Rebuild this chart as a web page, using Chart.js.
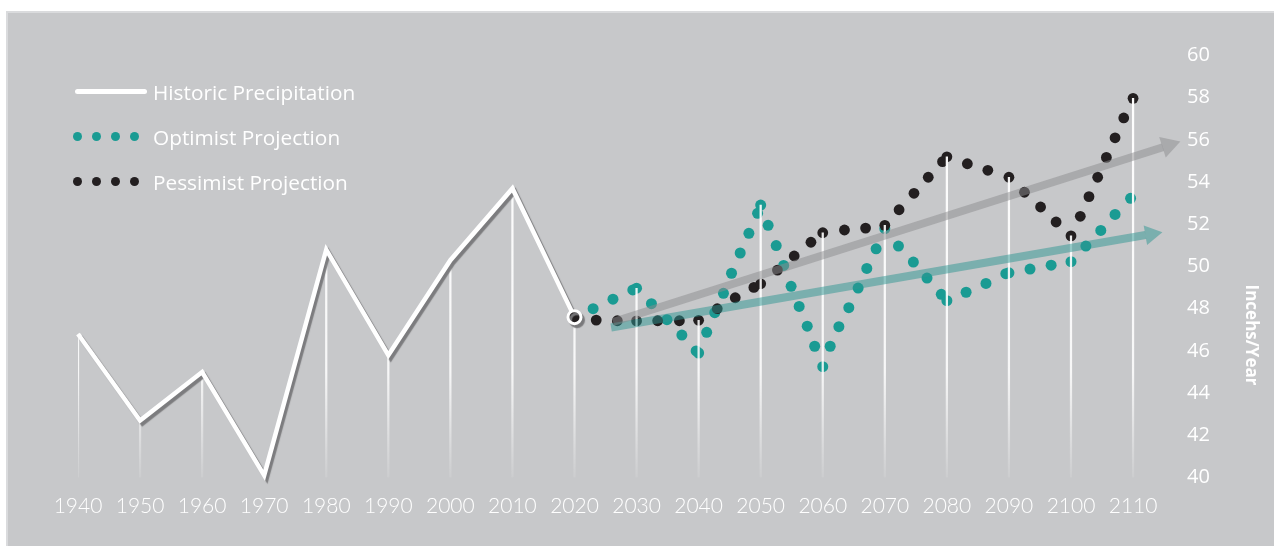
<!DOCTYPE html>
<html>
<head>
<meta charset="utf-8">
<script src="https://cdn.jsdelivr.net/npm/chart.js@4.4.1/dist/chart.umd.min.js"></script>
<style>
  html, body { margin: 0; padding: 0; background: #fff; }
  #wrap { position: relative; width: 1274px; height: 546px; overflow: hidden; }
  #panel {
    position: absolute; left: 6px; top: 11px; right: 0; bottom: 0;
    background: #c7c8ca;
    border-left: 2px solid #dadbdd; border-top: 2px solid #dadbdd;
  }
  #chart { position: absolute; left: 0; top: 0; }
  #labels {
    position: absolute; left: 73px; top: 69px;
    font-family: "Open Sans", sans-serif; font-size: 20.8px; color: #fff;
  }
</style>
</head>
<body>
<div id="wrap">
  <div id="panel"></div>
  <canvas id="chart" width="1274" height="546"></canvas>
  <div id="labels"></div>
</div>
<script>
const historicYears = [1940, 1950, 1960, 1970, 1980, 1990, 2000, 2010, 2020];
const historicValues = [46.8, 42.7, 45.0, 40.1, 50.8, 45.8, 50.3, 53.7, 47.6];

const optimistYears = [
  2023.0, 2026.2, 2029.4, 2030.0, 2032.4, 2034.9, 2037.3, 2039.6, 2040.0, 2041.3,
  2042.6, 2044.0, 2045.3, 2046.7, 2048.1, 2049.5, 2050.0, 2051.2, 2052.5, 2053.7,
  2054.9, 2056.2, 2057.5, 2058.7, 2060.0, 2061.2, 2062.6, 2064.2, 2065.7, 2067.1,
  2068.6, 2070.0, 2072.2, 2074.6, 2076.8, 2079.1, 2080.0, 2083.1, 2086.3, 2089.5,
  2090.0, 2093.4, 2096.8, 2100.0, 2102.4, 2104.8, 2107.1, 2109.6,
];
const optimistValues = [
  48.0, 48.45, 48.89, 48.97, 48.24, 47.48, 46.75, 46.0, 45.9, 46.88,
  47.81, 48.73, 49.68, 50.64, 51.57, 52.52, 52.91, 51.95, 50.99, 50.05,
  49.06, 48.11, 47.17, 46.22, 45.25, 46.22, 47.15, 48.05, 48.98, 49.91,
  50.84, 51.79, 50.97, 50.21, 49.45, 48.68, 48.38, 48.78, 49.2, 49.66,
  49.7, 49.88, 50.06, 50.23, 50.97, 51.71, 52.47, 53.23,
];

const pessimistYears = [
  2023.5, 2026.9, 2030.0, 2033.4, 2036.9, 2040.0, 2043.0, 2045.9, 2048.9, 2050.0,
  2052.7, 2055.4, 2058.1, 2060.0, 2063.5, 2066.9, 2070.0, 2072.3, 2074.7, 2077.0,
  2079.3, 2080.0, 2083.3, 2086.6, 2090.0, 2092.5, 2095.1, 2097.6, 2100.0, 2101.5,
  2102.9, 2104.3, 2105.7, 2107.1, 2108.5, 2110.0,
];
const pessimistValues = [
  47.46, 47.43, 47.42, 47.43, 47.43, 47.45, 48.0, 48.52, 49.01, 49.18,
  49.83, 50.5, 51.15, 51.6, 51.73, 51.82, 51.95, 52.69, 53.47, 54.23,
  54.97, 55.2, 54.87, 54.56, 54.23, 53.52, 52.82, 52.11, 51.45, 52.38,
  53.31, 54.23, 55.17, 56.1, 57.04, 57.97,
];

// trend arrows: shaft start, shaft end, then the arrow head centre
const pessimistTrendYears = [2026.2, 2114.8];
const pessimistTrendValues = [47.37, 55.65];
const pessimistHead = { x: 2115.7, y: 55.74 };
const optimistTrendYears = [2025.9, 2112.0];
const optimistTrendValues = [47.11, 51.49];
const optimistHead = { x: 2112.9, y: 51.53 };

const yTicks = [40, 60, 2];
const yTitle = 'Incehs/Year';

const toPoints = (xs, ys) => xs.map((x, i) => ({ x, y: ys[i] }));

const historic = toPoints(historicYears, historicValues);
const optimist = toPoints(optimistYears, optimistValues);
const pessimist = toPoints(pessimistYears, pessimistValues);

// white drop lines: from the highest mark at each decade down to the axis
const dropLines = [];
for (let yr = historicYears[0]; yr <= 2110; yr += 10) {
  const tops = historic.concat(optimist, pessimist)
    .filter(p => Math.abs(p.x - yr) < 0.3)
    .map(p => p.y);
  if (tops.length) dropLines.push({ x: yr, y: Math.max(...tops) });
}

const getOrCreateLegendList = id => {
  const legendContainer = document.getElementById(id);
  let listContainer = legendContainer.querySelector('ul');
  if (!listContainer) {
    listContainer = document.createElement('ul');
    listContainer.style.listStyle = 'none';
    listContainer.style.margin = 0;
    listContainer.style.padding = 0;
    legendContainer.appendChild(listContainer);
  }
  return listContainer;
};

const htmlLegendPlugin = {
  id: 'htmlLegend',
  afterUpdate(chart, args, options) {
    const ul = getOrCreateLegendList(options.containerId);
    while (ul.firstChild) {
      ul.firstChild.remove();
    }
    const items = chart.options.plugins.legend.labels.generateLabels(chart)
      .filter(item => chart.data.datasets[item.datasetIndex].swatch)
      .sort((a, b) => a.datasetIndex - b.datasetIndex);

    items.forEach(item => {
      const ds = chart.data.datasets[item.datasetIndex];
      const li = document.createElement('li');
      li.style.display = 'flex';
      li.style.alignItems = 'center';
      li.style.height = '45px';

      const box = document.createElement('span');
      box.style.display = 'flex';
      box.style.alignItems = 'center';
      box.style.width = '80px';
      if (ds.swatch === 'line') {
        const bar = document.createElement('span');
        bar.style.width = '72px';
        bar.style.height = '5px';
        bar.style.marginLeft = '2px';
        bar.style.borderRadius = '3px';
        bar.style.background = ds.borderColor;
        box.appendChild(bar);
      } else {
        for (let i = 0; i < 4; i++) {
          const dot = document.createElement('span');
          dot.style.width = '9.4px';
          dot.style.height = '9.4px';
          dot.style.borderRadius = '50%';
          dot.style.marginRight = '9.6px';
          dot.style.background = ds.backgroundColor;
          box.appendChild(dot);
        }
      }

      const text = document.createElement('span');
      text.textContent = item.text;
      li.appendChild(box);
      li.appendChild(text);
      ul.appendChild(li);
    });
  },
};

// grey offset shadow under the historic line
const lineShadowPlugin = {
  id: 'lineShadow',
  beforeDatasetDraw(chart, args) {
    if (!chart.data.datasets[args.index].shadow) return;
    const ctx = chart.ctx;
    ctx.save();
    ctx.shadowColor = 'rgba(120,120,122,0.95)';
    ctx.shadowOffsetX = 2.5;
    ctx.shadowOffsetY = 3;
    ctx.shadowBlur = 1;
  },
  afterDatasetDraw(chart, args) {
    if (!chart.data.datasets[args.index].shadow) return;
    chart.ctx.restore();
  },
};

const sideTitlePlugin = {
  id: 'sideTitle',
  afterDraw(chart, args, opts) {
    const ctx = chart.ctx;
    ctx.save();
    ctx.translate(opts.x, opts.y);
    ctx.rotate(Math.PI / 2);
    ctx.font = 'bold 17px "Open Sans"';
    ctx.fillStyle = '#ffffff';
    ctx.textAlign = 'center';
    ctx.textBaseline = 'middle';
    ctx.fillText(opts.text, 0, 0);
    ctx.restore();
  },
};

const dropGradient = ctx => {
  const area = ctx.chart.chartArea;
  if (!area) return 'rgba(255,255,255,0.85)';
  const g = ctx.chart.ctx.createLinearGradient(0, area.top, 0, area.bottom);
  g.addColorStop(0, 'rgba(255,255,255,1)');
  g.addColorStop(0.75, 'rgba(255,255,255,0.85)');
  g.addColorStop(1, 'rgba(255,255,255,0.1)');
  return g;
};

const CHART = new Chart(document.getElementById('chart'), {
  type: 'line',
  plugins: [htmlLegendPlugin, lineShadowPlugin, sideTitlePlugin],
  data: {
    datasets: [
      {
        label: 'Pessimist trend',
        data: toPoints(pessimistTrendYears, pessimistTrendValues),
        borderColor: 'rgba(140,140,141,0.5)',
        borderWidth: 8,
        borderCapStyle: 'butt',
        pointRadius: 0,
        clip: false,
        order: 0,
      },
      {
        label: 'Pessimist trend head',
        data: [pessimistHead],
        showLine: false,
        pointStyle: 'triangle',
        rotation: 72.4,
        pointRadius: 12.5,
        borderWidth: 0,
        backgroundColor: 'rgba(140,140,141,0.5)',
        clip: false,
        order: 0,
      },
      {
        label: 'Optimist trend',
        data: toPoints(optimistTrendYears, optimistTrendValues),
        borderColor: 'rgba(45,150,145,0.5)',
        borderWidth: 8,
        borderCapStyle: 'butt',
        pointRadius: 0,
        clip: false,
        order: 0,
      },
      {
        label: 'Optimist trend head',
        data: [optimistHead],
        showLine: false,
        pointStyle: 'triangle',
        rotation: 80.2,
        pointRadius: 11.5,
        borderWidth: 0,
        backgroundColor: 'rgba(45,150,145,0.5)',
        clip: false,
        order: 0,
      },
      {
        label: 'Historic Precipitation',
        swatch: 'line',
        shadow: true,
        data: historic,
        borderColor: '#ffffff',
        borderWidth: 4.5,
        borderJoinStyle: 'miter',
        backgroundColor: '#231f20',
        pointBackgroundColor: '#231f20',
        pointBorderColor: '#ffffff',
        pointBorderWidth: 3,
        pointRadius: ctx => (ctx.dataIndex === historic.length - 1 ? 6.5 : 0),
        clip: false,
        order: 1,
      },
      {
        type: 'bar',
        label: 'Drop lines',
        data: dropLines,
        base: 40,
        barThickness: 1.6,
        backgroundColor: dropGradient,
        borderWidth: 0,
        order: 2,
      },
      {
        label: 'Optimist Projection',
        swatch: 'dots',
        data: optimist,
        showLine: false,
        pointRadius: 5.5,
        borderWidth: 0,
        backgroundColor: '#1a9b93',
        borderColor: '#1a9b93',
        order: 4,
      },
      {
        label: 'Pessimist Projection',
        swatch: 'dots',
        data: pessimist,
        showLine: false,
        pointRadius: 5.4,
        borderWidth: 0,
        backgroundColor: '#231f20',
        borderColor: '#231f20',
        order: 3,
      },
    ],
  },
  options: {
    responsive: false,
    animation: false,
    events: [],
    layout: { padding: { left: 78, top: 55.5, right: 0, bottom: 0 } },
    elements: { line: { tension: 0 } },
    scales: {
      x: {
        type: 'linear',
        offset: false,
        min: 1940,
        max: 2117,
        afterFit: scale => { scale.height = 68.5; },
        grid: { display: false, drawTicks: false, offset: false },
        border: { display: false },
        ticks: {
          stepSize: 10,
          includeBounds: false,
          autoSkip: false,
          maxRotation: 0,
          padding: 16,
          color: '#ffffff',
          font: { family: 'Lato', size: 21, weight: 300 },
          callback: v => String(v),
        },
      },
      y: {
        position: 'right',
        min: yTicks[0],
        max: yTicks[1],
        afterFit: scale => { scale.width = 97.5; },
        grid: { display: false, drawTicks: false },
        border: { display: false },
        ticks: {
          stepSize: yTicks[2],
          padding: 10.5,
          color: '#ffffff',
          font: { family: 'Open Sans', size: 20 },
        },
      },
    },
    plugins: {
      legend: { display: false },
      tooltip: { enabled: false },
      htmlLegend: { containerId: 'labels' },
      sideTitle: { text: yTitle, x: 1251, y: 335 },
    },
  },
});
</script>
</body>
</html>
